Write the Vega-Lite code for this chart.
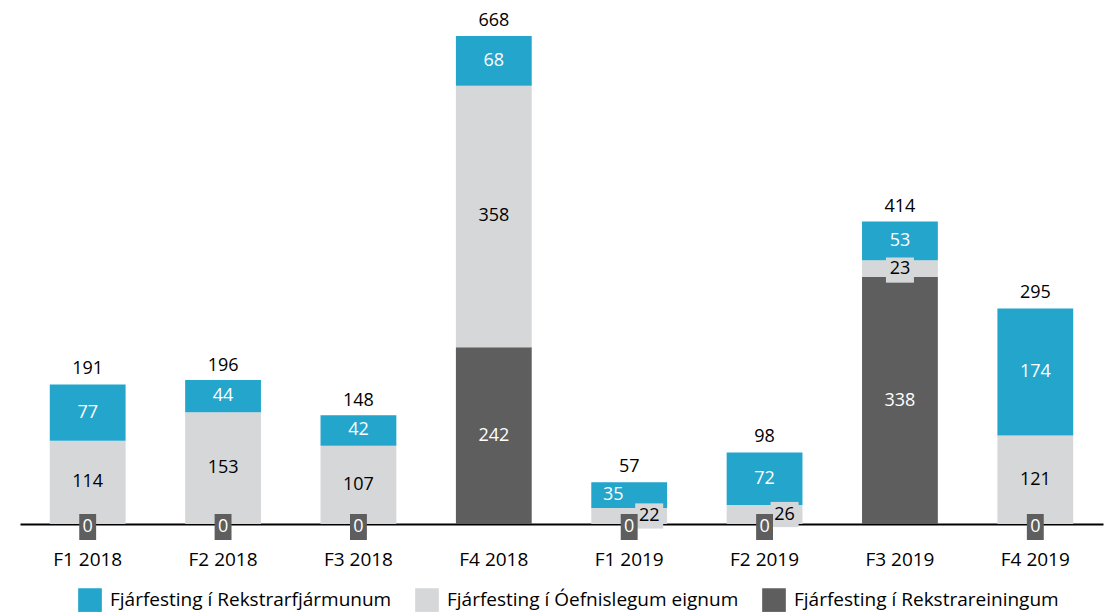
{
  "$schema": "https://vega.github.io/schema/vega-lite/v6.json",
  "autosize": "none",
  "width": 1083,
  "height": 488,
  "padding": {"left": 20, "top": 36, "right": 7, "bottom": 88},
  "background": "white",
  "title": {"text": "Fjárfestingar", "anchor": "start", "frame": "group", "dx": 398, "offset": 9, "baseline": "alphabetic", "fontSize": 23, "font": "Open Sans", "fontWeight": "bold", "color": "#000000"},
  "config": {
    "view": {"stroke": null},
    "font": "Open Sans",
    "text": {"font": "Open Sans", "fontSize": 18},
    "axis": {"labelFont": "Open Sans", "labelFontSize": 19, "labelColor": "#000000"},
    "legend": {"labelFont": "Open Sans", "labelFontSize": 19, "labelColor": "#000000", "labelLimit": 0}
  },
  "datasets": {
    "segs": [
      {"q": "F1 2018", "series": "Fjárfesting í Rekstrareiningum", "value": 0},
      {"q": "F1 2018", "series": "Fjárfesting í Óefnislegum eignum", "value": 114},
      {"q": "F1 2018", "series": "Fjárfesting í Rekstrarfjármunum", "value": 77},
      {"q": "F2 2018", "series": "Fjárfesting í Rekstrareiningum", "value": 0},
      {"q": "F2 2018", "series": "Fjárfesting í Óefnislegum eignum", "value": 153},
      {"q": "F2 2018", "series": "Fjárfesting í Rekstrarfjármunum", "value": 44},
      {"q": "F3 2018", "series": "Fjárfesting í Rekstrareiningum", "value": 0},
      {"q": "F3 2018", "series": "Fjárfesting í Óefnislegum eignum", "value": 107},
      {"q": "F3 2018", "series": "Fjárfesting í Rekstrarfjármunum", "value": 42},
      {"q": "F4 2018", "series": "Fjárfesting í Rekstrareiningum", "value": 242},
      {"q": "F4 2018", "series": "Fjárfesting í Óefnislegum eignum", "value": 358},
      {"q": "F4 2018", "series": "Fjárfesting í Rekstrarfjármunum", "value": 68},
      {"q": "F1 2019", "series": "Fjárfesting í Rekstrareiningum", "value": 0},
      {"q": "F1 2019", "series": "Fjárfesting í Óefnislegum eignum", "value": 22},
      {"q": "F1 2019", "series": "Fjárfesting í Rekstrarfjármunum", "value": 35},
      {"q": "F2 2019", "series": "Fjárfesting í Rekstrareiningum", "value": 0},
      {"q": "F2 2019", "series": "Fjárfesting í Óefnislegum eignum", "value": 26},
      {"q": "F2 2019", "series": "Fjárfesting í Rekstrarfjármunum", "value": 72},
      {"q": "F3 2019", "series": "Fjárfesting í Rekstrareiningum", "value": 338},
      {"q": "F3 2019", "series": "Fjárfesting í Óefnislegum eignum", "value": 23},
      {"q": "F3 2019", "series": "Fjárfesting í Rekstrarfjármunum", "value": 53},
      {"q": "F4 2019", "series": "Fjárfesting í Rekstrareiningum", "value": 0},
      {"q": "F4 2019", "series": "Fjárfesting í Óefnislegum eignum", "value": 121},
      {"q": "F4 2019", "series": "Fjárfesting í Rekstrarfjármunum", "value": 174}
    ],
    "totals": [
      {"q": "F1 2018", "total": 191},
      {"q": "F2 2018", "total": 196},
      {"q": "F3 2018", "total": 148},
      {"q": "F4 2018", "total": 668},
      {"q": "F1 2019", "total": 57},
      {"q": "F2 2019", "total": 98},
      {"q": "F3 2019", "total": 414},
      {"q": "F4 2019", "total": 295}
    ]
  },
  "encoding": {
    "x": {"field": "q", "type": "nominal", "sort": ["F1 2018", "F2 2018", "F3 2018", "F4 2018", "F1 2019", "F2 2019", "F3 2019", "F4 2019"],
      "scale": {"paddingInner": 0.44, "paddingOuter": 0.22},
      "axis": {"title": null, "ticks": false, "labelPadding": 26, "labelAngle": 0, "domainColor": "#000000", "domainWidth": 2}}
  },
  "layer": [
    {
      "data": {"name": "segs"},
      "transform": [{"stack": "value", "groupby": ["q"], "as": ["y0", "y1"]}],
      "mark": {"type": "bar"},
      "encoding": {
        "y": {"field": "y1", "type": "quantitative", "scale": {"domain": [0, 668], "nice": false}, "axis": null},
        "y2": {"field": "y0"},
        "color": {"field": "series", "type": "nominal",
          "scale": {"domain": ["Fjárfesting í Rekstrarfjármunum", "Fjárfesting í Óefnislegum eignum", "Fjárfesting í Rekstrareiningum"], "range": ["#23A5CC", "#D6D7D9", "#5E5E5E"]},
          "legend": {"title": null, "orient": "none", "legendX": 58, "legendY": 552, "direction": "horizontal", "symbolType": "square", "symbolSize": 560, "symbolStrokeWidth": 0, "labelOffset": 8, "columnPadding": 23, "padding": 0, "symbolOpacity": 1, "labelLimit": 0}}
      }
    },
    {
      "data": {"name": "segs"},
      "transform": [{"stack": "value", "groupby": ["q"], "as": ["y0", "y1"]},
        {"calculate": "(datum.y0 + datum.y1) / 2", "as": "mid"},
        {"filter": "datum.value > 0 && datum.series != 'Fjárfesting í Óefnislegum eignum' && !(datum.q == 'F1 2019')"}],
      "mark": {"type": "text", "color": "#FFFFFF", "baseline": "middle"},
      "encoding": {"y": {"field": "mid", "type": "quantitative"}, "text": {"field": "value"}}
    },
    {
      "data": {"name": "segs"},
      "transform": [{"stack": "value", "groupby": ["q"], "as": ["y0", "y1"]},
        {"calculate": "(datum.y0 + datum.y1) / 2", "as": "mid"},
        {"filter": "datum.q == 'F1 2019' && datum.series == 'Fjárfesting í Rekstrarfjármunum'"}],
      "mark": {"type": "text", "color": "#FFFFFF", "baseline": "middle", "dx": -16},
      "encoding": {"y": {"field": "mid", "type": "quantitative"}, "text": {"field": "value"}}
    },
    {
      "data": {"name": "segs"},
      "transform": [{"stack": "value", "groupby": ["q"], "as": ["y0", "y1"]},
        {"calculate": "(datum.y0 + datum.y1) / 2", "as": "mid"},
        {"filter": "datum.series == 'Fjárfesting í Óefnislegum eignum' && datum.value >= 30"}],
      "mark": {"type": "text", "color": "#000000", "baseline": "middle"},
      "encoding": {"y": {"field": "mid", "type": "quantitative"}, "text": {"field": "value"}}
    },
    {
      "data": {"name": "segs"},
      "transform": [{"stack": "value", "groupby": ["q"], "as": ["y0", "y1"]},
        {"calculate": "(datum.y0 + datum.y1) / 2", "as": "mid"},
        {"filter": "datum.series == 'Fjárfesting í Óefnislegum eignum' && datum.value < 30 && datum.q == 'F3 2019'"}],
      "layer": [
        {"mark": {"type": "point", "shape": "M-1,-0.8H1V1H-1Z", "size": 784, "filled": true, "color": "#D6D7D9", "opacity": 1, "strokeWidth": 0},
         "encoding": {"y": {"field": "mid", "type": "quantitative"}}},
        {"mark": {"type": "text", "color": "#000000", "baseline": "middle"},
         "encoding": {"y": {"field": "mid", "type": "quantitative"}, "text": {"field": "value"}}}
      ]
    },
    {
      "data": {"name": "segs"},
      "transform": [{"stack": "value", "groupby": ["q"], "as": ["y0", "y1"]},
        {"calculate": "(datum.y0 + datum.y1) / 2", "as": "mid"},
        {"filter": "datum.series == 'Fjárfesting í Óefnislegum eignum' && datum.value < 30 && datum.q != 'F3 2019'"}],
      "layer": [
        {"mark": {"type": "point", "shape": "M0.43,-0.9H2.43V0.9H0.43Z", "size": 784, "filled": true, "color": "#D6D7D9", "opacity": 1, "strokeWidth": 0},
         "encoding": {"y": {"field": "mid", "type": "quantitative"}}},
        {"mark": {"type": "text", "color": "#000000", "baseline": "middle", "dx": 20},
         "encoding": {"y": {"field": "mid", "type": "quantitative"}, "text": {"field": "value"}}}
      ]
    },
    {
      "data": {"name": "segs"},
      "transform": [{"filter": "datum.series == 'Fjárfesting í Rekstrareiningum' && datum.value == 0"}],
      "layer": [
        {"mark": {"type": "point", "shape": "M-0.65,-0.77H0.65V1.23H-0.65Z", "size": 676, "filled": true, "color": "#5E5E5E", "opacity": 1, "strokeWidth": 0},
         "encoding": {"y": {"field": "value", "type": "quantitative"}}},
        {"mark": {"type": "text", "color": "#FFFFFF", "baseline": "middle", "dy": 3},
         "encoding": {"y": {"field": "value", "type": "quantitative"}, "text": {"field": "value"}}}
      ]
    },
    {
      "data": {"name": "totals"},
      "mark": {"type": "text", "color": "#000000", "baseline": "bottom", "dy": -6},
      "encoding": {"y": {"field": "total", "type": "quantitative"}, "text": {"field": "total"}}
    }
  ]
}
